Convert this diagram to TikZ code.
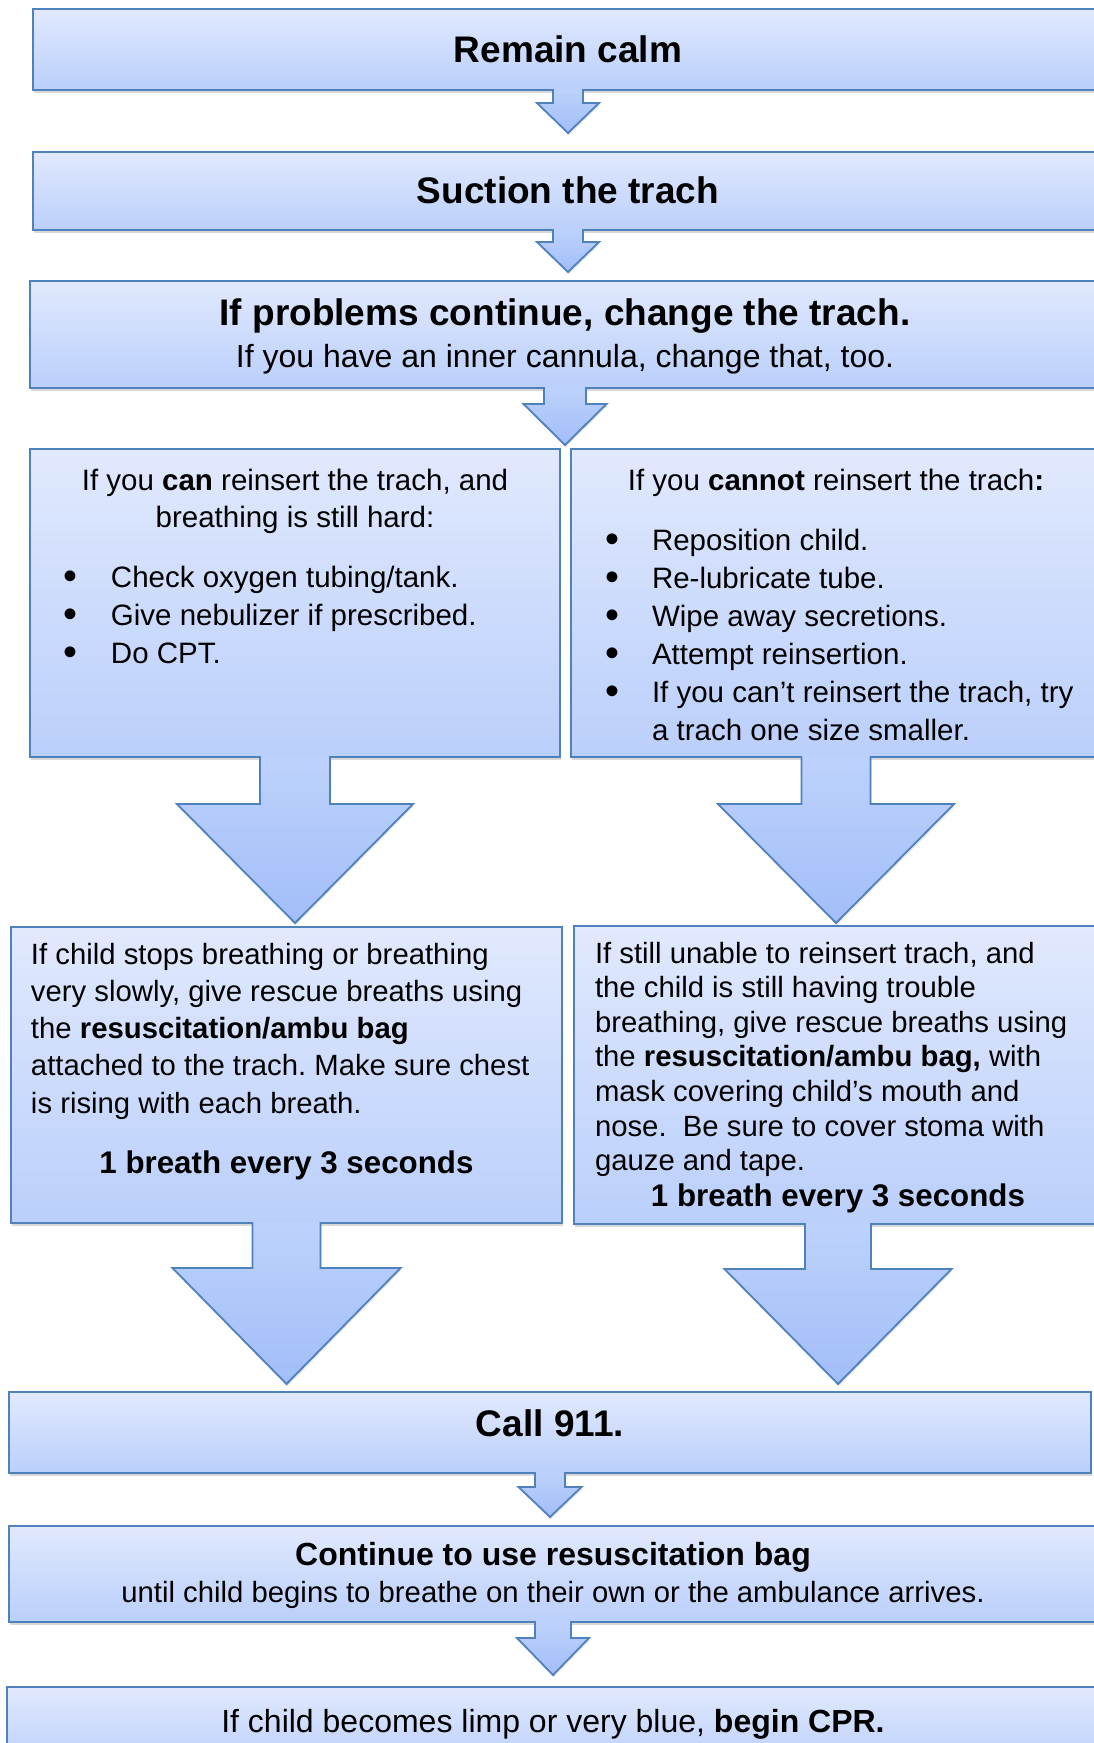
\documentclass[tikz,border=0pt]{standalone}
\usepackage{graphicx}
\usepackage{fontspec}
\setmainfont{Liberation Sans}
\usetikzlibrary{calc,shadows}
\frenchspacing

\definecolor{boxline}{HTML}{4F81BD}
\definecolor{boxtop}{HTML}{E1E9FD}
\definecolor{boxbottom}{HTML}{BACFFB}
\definecolor{arrowtop}{HTML}{BDD2FB}
\definecolor{arrowbottom}{HTML}{A2BEF9}

% text of a box: width, height, first baseline, text
\newcommand{\boxtext}[4]{\parbox[c][#2][t]{#1}{\rule{0pt}{#3}#4}}
% bullet line
\newcommand{\bitem}[1]{\par\noindent\hangindent=81pt\hangafter=1%
	\makebox[81pt][l]{\hspace*{34pt}\raisebox{-0.08em}{\scalebox{1.35}{\textbullet}}}#1}
% block arrow: from, to, gap, half shaft, half head, head length
\newcommand{\flowarrow}[6]{%
	\shade[blockarrow] let \p1=(#1.south), \p2=(#2.north) in
		(\x1-#4pt,\y1+1pt) -- (\x1-#4pt,\y2+#3pt+#6pt) -- (\x1-#5pt,\y2+#3pt+#6pt)
		-- (\x1,\y2+#3pt) -- (\x1+#5pt,\y2+#3pt+#6pt) -- (\x1+#4pt,\y2+#3pt+#6pt)
		-- (\x1+#4pt,\y1+1pt);}

\begin{document}
\begin{tikzpicture}
			[
				x                   = 1pt,
				y                   = -1pt,
				flowbox/.style      = {draw=boxline, line width=2pt, top color=boxtop, bottom color=boxbottom,
				                       inner sep=0pt, outer sep=0pt,
				                       drop shadow={shadow xshift=1pt, shadow yshift=-3pt, opacity=.3}},
				blockarrow/.style   = {draw=boxline, line width=1.8pt, top color=arrowtop, bottom color=arrowbottom,
				                       drop shadow={shadow xshift=1pt, shadow yshift=-2pt, opacity=.2}}
			]
			\fill[white] (0,0) rectangle (1094,1743);
			\useasboundingbox (0,0) rectangle (1094,1743);

			\node [flowbox] (calm) at (568,49.5)
				{\boxtext{1070pt}{81pt}{53pt}{\centering\fontsize{37}{44}\selectfont\bfseries Remain calm}};
			\node [flowbox] (suction) at (568,191)
				{\boxtext{1070pt}{78pt}{51pt}{\centering\fontsize{37}{44}\selectfont\bfseries Suction the trach}};
			\node [flowbox] (change) at (565,334.5)
				{\boxtext{1070pt}{107pt}{44pt}{\centering\fontsize{37}{42}\selectfont
					\textbf{If problems continue, change the trach.}\\
					\fontsize{32}{42}\selectfont If you have an inner cannula, change that, too.}};

			% can / cannot reinsert
			\node [flowbox] (canbox) at (295,603)
				{\boxtext{530pt}{308pt}{41pt}{\centering\fontsize{29.5}{37}\selectfont
					If you \textbf{can} reinsert the trach, and\\breathing is still hard:\par
					\vspace{22pt}\raggedright\fontsize{29.5}{38}\selectfont
					\bitem{Check oxygen tubing/tank.}
					\bitem{Give nebulizer if prescribed.}
					\bitem{Do CPT.}}};
			\node [flowbox] (cannotbox) at (836,603)
				{\boxtext{530pt}{308pt}{41pt}{\centering\fontsize{29.5}{37}\selectfont
					If you \textbf{cannot} reinsert the trach\textbf{:}\par
					\vspace{22pt}\raggedright\fontsize{29.5}{38}\selectfont
					\bitem{Reposition child.}
					\bitem{Re-lubricate tube.}
					\bitem{Wipe away secretions.}
					\bitem{Attempt reinsertion.}
					\bitem{If you can’t reinsert the trach, try\newline a trach one size smaller.}}};

			% rescue breaths
			\node [flowbox] (rescueL) at (286.5,1075)
				{\boxtext{551pt}{296pt}{37pt}{\raggedright\leftskip=20pt\fontsize{29.3}{37.3}\selectfont
					If child stops breathing or breathing\\very slowly, give rescue breaths using\\
					the \textbf{resuscitation/ambu bag}\\attached to the trach. Make sure chest\\
					is rising with each breath.\par
					\vspace{22.7pt}\centering\fontsize{31.3}{37.3}\selectfont\textbf{1 breath every 3 seconds}}};
			\node [flowbox] (rescueR) at (838,1075)
				{\boxtext{528pt}{298pt}{37pt}{\raggedright\leftskip=21pt\fontsize{29.3}{34.6}\selectfont
					If still unable to reinsert trach, and\\the child is still having trouble\\
					breathing, give rescue breaths using\\the \textbf{resuscitation/ambu bag,} with\\
					mask covering child’s mouth and\\nose.\ \ Be sure to cover stoma with\\gauze and tape.\par
					\vspace{1.4pt}\centering\fontsize{31.3}{34.6}\selectfont\textbf{1 breath every 3 seconds}}};

			\node [flowbox] (call) at (550,1432.5)
				{\boxtext{1082pt}{81pt}{44pt}{\centering\fontsize{37}{44}\selectfont\bfseries Call 911.}};
			\node [flowbox] (keepbag) at (553,1574)
				{\boxtext{1088pt}{96pt}{39pt}{\centering\fontsize{32}{37.7}\selectfont
					\textbf{Continue to use resuscitation bag}\\
					\fontsize{29.3}{37.7}\selectfont until child begins to breathe on their own or the ambulance arrives.}};
			\node [flowbox] (cpr) at (553,1727)
				{\boxtext{1092pt}{80pt}{45pt}{\centering\fontsize{32}{40}\selectfont
					If child becomes limp or very blue, \textbf{begin CPR.}}};

			% arrows
			\flowarrow{calm}{suction}{19}{15}{31}{30}
			\flowarrow{suction}{change}{9}{15}{31}{30}
			\flowarrow{change}{canbox}{4}{21}{41.5}{41}
			\flowarrow{canbox}{rescueL}{4}{35}{118}{119}
			\flowarrow{cannotbox}{rescueR}{3}{34.5}{118}{119}
			\flowarrow{rescueL}{call}{8}{34}{114}{116}
			\flowarrow{rescueR}{call}{8}{33}{113.5}{115}
			\flowarrow{call}{keepbag}{9}{15}{31.5}{30}
			\flowarrow{keepbag}{cpr}{12}{18}{36}{37}
		\end{tikzpicture}
\end{document}
